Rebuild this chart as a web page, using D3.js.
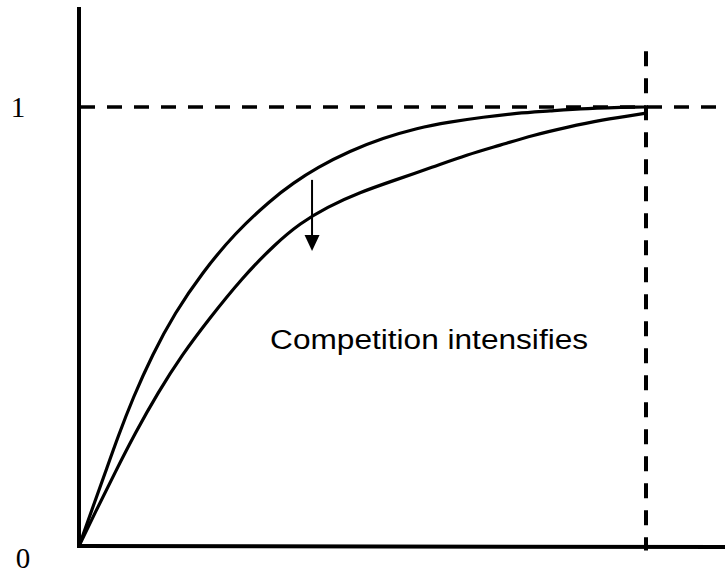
<!DOCTYPE html>
<html>
<head>
<meta charset="utf-8">
<script src="https://cdn.jsdelivr.net/npm/d3@7"></script>
<style>
    body { margin: 0; background: #fff; }
    svg { display: block; }
</style>
</head>
<body>
<svg id="chart"></svg>
<script>
// curve before competition (upper) and after (lower), x and y both in 0..1
const upperX = [0, 0.023, 0.046, 0.069, 0.095, 0.129, 0.169, 0.217, 0.275, 0.340, 0.377, 0.420, 0.478, 0.536, 0.596, 0.654, 0.713, 0.772, 0.831, 0.889, 1.0]
const upperY = [0, 0.083, 0.166, 0.250, 0.337, 0.435, 0.531, 0.622, 0.713, 0.790, 0.826, 0.862, 0.900, 0.929, 0.952, 0.966, 0.977, 0.986, 0.991, 0.997, 1.0]
const lowerX = [0, 0.028, 0.063, 0.099, 0.139, 0.182, 0.228, 0.287, 0.346, 0.390, 0.437, 0.496, 0.554, 0.624, 0.684, 0.743, 0.801, 0.861, 0.919, 1.0]
const lowerY = [0, 0.075, 0.166, 0.257, 0.349, 0.436, 0.515, 0.610, 0.688, 0.735, 0.772, 0.806, 0.832, 0.863, 0.891, 0.913, 0.936, 0.954, 0.970, 0.986]

const tickLabels = ['0', '1']
const annotation = 'Competition intensifies'
const arrowX = 0.411
const arrowFrom = 0.834
const arrowTo = 0.672
const limitX = 1        // vertical dashed line
const limitY = 1        // horizontal dashed line

const width = 725
const height = 576

const svg = d3.select('#chart')
    .attr('width', width)
    .attr('height', height)

const xScale = d3.scaleLinear().domain([0, 1]).range([79, 646])
const yScale = d3.scaleLinear().domain([0, 1]).range([546, 107])

const toPoints = (xs, ys) => xs.map((x, i) => ({x: x, y: ys[i]}))
const upper = toPoints(upperX, upperY)
const lower = toPoints(lowerX, lowerY)

const line = d3.line()
    .x(d => xScale(d.x))
    .y(d => yScale(d.y))
    .curve(d3.curveBasis)

// dashed guide lines
svg.append('line')
    .attr('x1', xScale(0) + 1).attr('x2', width)
    .attr('y1', yScale(limitY)).attr('y2', yScale(limitY))
    .attr('stroke', '#000').attr('stroke-width', 3.5)
    .attr('stroke-dasharray', '15 12')

svg.append('line')
    .attr('x1', xScale(limitX)).attr('x2', xScale(limitX))
    .attr('y1', yScale(1.127)).attr('y2', yScale(-0.01))
    .attr('stroke', '#000').attr('stroke-width', 4)
    .attr('stroke-dasharray', '15 12')

// axes
svg.append('line')
    .attr('x1', xScale(0)).attr('x2', xScale(0))
    .attr('y1', yScale(1.228)).attr('y2', yScale(0) + 2)
    .attr('stroke', '#000').attr('stroke-width', 4)

svg.append('line')
    .attr('x1', xScale(0) - 2).attr('x2', width)
    .attr('y1', yScale(0)).attr('y2', yScale(0) + 1)
    .attr('stroke', '#000').attr('stroke-width', 4)

// curves
svg.selectAll('.curve')
    .data([upper, lower])
    .join('path')
    .attr('class', 'curve')
    .attr('d', line)
    .attr('fill', 'none')
    .attr('stroke', '#000')
    .attr('stroke-width', 3.2)

// arrow
svg.append('line')
    .attr('x1', xScale(arrowX)).attr('x2', xScale(arrowX))
    .attr('y1', yScale(arrowFrom)).attr('y2', yScale(arrowTo) - 12)
    .attr('stroke', '#000').attr('stroke-width', 2)

const tipX = xScale(arrowX), tipY = yScale(arrowTo)
svg.append('path')
    .attr('d', `M${tipX - 7.5},${tipY - 16}L${tipX + 7.5},${tipY - 16}L${tipX},${tipY}Z`)
    .attr('fill', '#000')

// labels
svg.append('text')
    .attr('x', xScale(0.337))
    .attr('y', yScale(0.449))
    .attr('textLength', 318)
    .attr('lengthAdjust', 'spacingAndGlyphs')
    .style('font-family', 'Liberation Sans, Arial, sans-serif')
    .style('font-size', '27px')
    .text(annotation)

svg.selectAll('.tick-label')
    .data(tickLabels)
    .join('text')
    .attr('class', 'tick-label')
    .attr('x', d => d === '0' ? 23 : 18)
    .attr('y', d => d === '0' ? yScale(0) + 22 : yScale(1) + 10)
    .attr('text-anchor', 'middle')
    .style('font-family', 'Liberation Serif, Times New Roman, serif')
    .style('font-size', '29px')
    .text(d => d)
</script>
</body>
</html>
